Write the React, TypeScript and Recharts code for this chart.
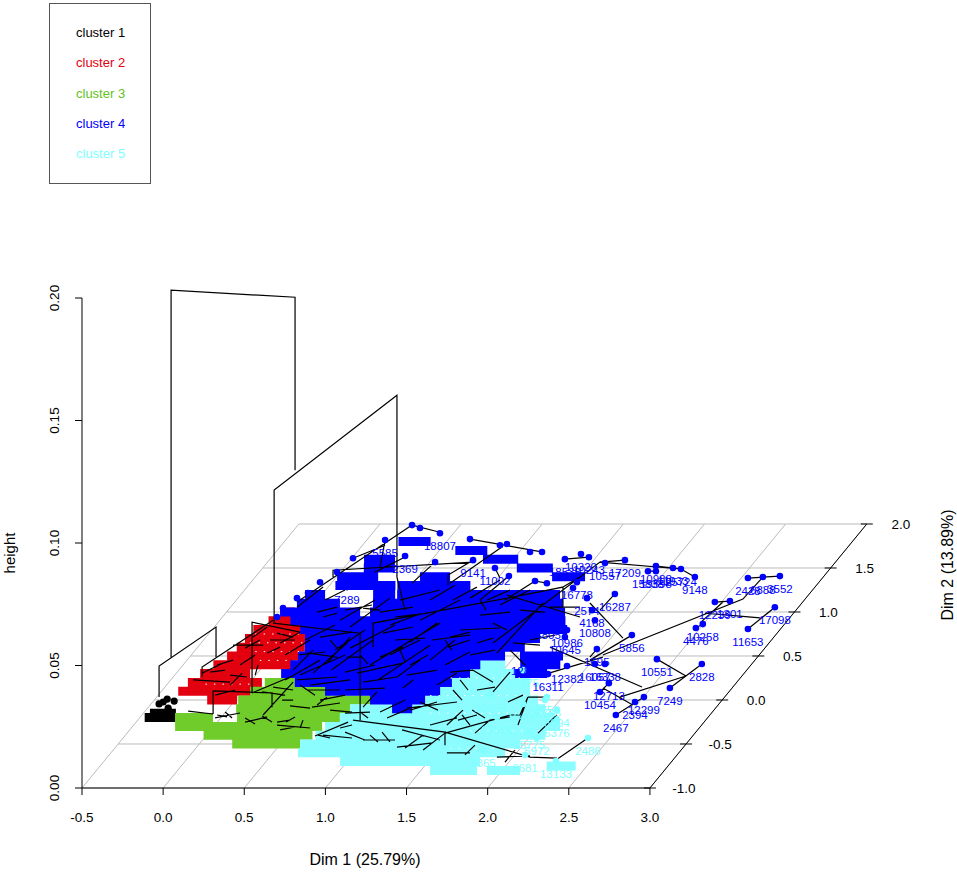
import { ComposedChart, Line, Scatter, XAxis, YAxis } from 'recharts';

// floor of the 3d box
const dim1Ticks = [-0.5, 0, 0.5, 1, 1.5, 2, 2.5, 3];
const dim2Ticks = [-1, -0.5, 0, 0.5, 1, 1.5, 2];
const heightTicks = [0, 0.05, 0.1, 0.15, 0.2];

const SHEAR_X = 0.4455;
const SHEAR_Y = 0.03592;

const project = (d1: number, d2: number) => ({
  x: d1 + (d2 + 1) * SHEAR_X,
  y: (d2 + 1) * SHEAR_Y,
});

// overlapping labels make solid bands: [dim2, dim1 start, dim1 end]
const blackBands = [
  [-0.2, -0.47, -0.28],
  [-0.15, -0.46, -0.3],
];
const redBands = [
  [0, -0.174, 0.01],
  [0.1, -0.397, 0.077],
  [0.2, -0.382, 0.074],
  [0.3, -0.351, -0.043],
  [0.4, -0.314, 0.172],
  [0.5, -0.274, 0.176],
  [0.6, -0.259, 0.16],
  [0.7, -0.253, 0.129],
  [0.8, -0.246, 0.074],
  [0.9, -0.197, 0],
  [1, -0.17, -0.078],
];
const greenBands = [
  [-0.5, 0.203, 0.622],
  [-0.4, -0.018, 0.653],
  [-0.3, -0.238, 0.668],
  [-0.2, -0.283, -0.049],
  [-0.2, 0.099, 0.733],
  [-0.1, 0.049, 0.752],
  [0, 0.017, 0.842],
  [0.1, 0.046, 0.539],
  [0.2, 0.092, 0.308],
];
const cyanBands = [
  [0.4, 1.269, 1.485],
  [0.3, 1.189, 1.651],
  [0.2, 1.201, 1.725],
  [0.1, 1.186, 1.771],
  [0, 1.169, 1.865],
  [-0.1, 0.752, 1.953],
  [-0.2, 0.733, 2.058],
  [-0.3, 0.686, 2.134],
  [-0.4, 0.672, 2.089],
  [-0.5, 0.622, 1.978],
  [-0.6, 0.653, 1.929],
  [-0.7, 0.957, 1.819],
  [-0.8, 1.556, 1.845],
  [-0.8, 1.907, 2.11],
  [-0.75, 2.252, 2.431],
];
const blueBands = [
  [1.8, 0.203, 0.401],
  [1.7, 0.598, 0.795],
  [1.6, 0.813, 1.03],
  [1.6, 0.08, 0.271],
  [1.5, 1.066, 1.288],
  [1.5, 0.123, 0.314],
  [1.4, 1.328, 1.531],
  [1.4, 0.003, 0.256],
  [1.4, 0.514, 0.699],
  [1.3, 0.037, 0.407],
  [1.3, 0.419, 0.869],
  [1.2, -0.105, 0.018],
  [1.2, 0.314, 0.45],
  [1.2, 0.462, 1.466],
  [1.1, -0.111, 0.154],
  [1.1, 0.358, 1.528],
  [1, -0.17, 0.323],
  [1, 0.384, 1.586],
  [0.9, -0.062, 1.633],
  [0.8, 0.043, 1.688],
  [0.7, 0.117, 1.565],
  [0.6, 0.16, 1.516],
  [0.5, 0.163, 1.439],
  [0.5, 1.531, 1.796],
  [0.4, 0.16, 1.331],
  [0.4, 1.577, 1.824],
  [0.3, 0.148, 1.312],
  [0.3, 1.59, 1.787],
  [0.2, 0.277, 1.245],
  [0.1, 0.508, 1.217],
  [0, 0.83, 1.169],
  [-0.1, 1.01, 1.134],
];

// thin gaps left between the overlapping digits: [dim2, dim1 start, dim1 end]
const speckBands = [
  [0.45, -0.05, 0.148],
  [0.55, -0.123, 0.154],
  [0.65, -0.2, 0.138],
  [0.75, -0.213, 0.095],
  [0.18, -0.265, 0.043],
  [0.25, 1.214, 1.676],
  [0.05, 1.177, 1.824],
  [-0.15, 1.266, 2.006],
  [-0.35, 1.602, 2.157],
  [-0.55, 1.568, 2.0],
];

// dendrogram lines in axis units: [x, height, x, height, ...]
const treeTop = [
  [0.049, 0.0534, 0.049, 0.2032, 0.813, 0.2003, 0.813, 0.1297],
  [0.684, 0.0673, 0.684, 0.1216, 1.441, 0.1603, 1.441, 0.0861, 1.491, 0.0726],
  [-0.025, 0.0371, -0.025, 0.0498, 0.326, 0.0657, 0.326, 0.0534],
  [0.548, 0.0388, 0.548, 0.0677, 0.844, 0.0636],
  [0.678, 0.0673, 1.214, 0.0632, 1.214, 0.0277],
  [1.17, 0.0277, 1.737, 0.0228, 1.737, 0.0175],
];
const treeRed = [
  [0.185, 0.0441, 0.413, 0.0432],
  [0.24, 0.0469, 0.37, 0.051],
  [0.333, 0.0502, 0.431, 0.0522],
  [0.413, 0.0461, 0.517, 0.0453],
  [0.413, 0.042, 0.487, 0.0469],
  [0.431, 0.0583, 0.616, 0.0583],
  [0.641, 0.0551, 0.721, 0.0575],
  [0.554, 0.0616, 0.641, 0.0657],
  [0.702, 0.0632, 0.801, 0.0616],
  [0.24, 0.0453, 0.24, 0.0494, 0.678, 0.0685],
  [0.29, 0.0473, 0.382, 0.0481],
  [0.474, 0.0502, 0.567, 0.0543],
  [0.567, 0.0461, 0.585, 0.0502],
  [0.659, 0.0604, 0.813, 0.0604],
  [0.505, 0.0571, 0.597, 0.0604],
  [0.32, 0.0379, 0.444, 0.04],
];
const treeGreen = [
  [0.308, 0.0302, 0.308, 0.0396, 0.671, 0.0388, 0.671, 0.033],
  [0.801, 0.0432, 0.616, 0.0298],
  [0.154, 0.0314, 0.308, 0.0302],
  [0.548, 0.0388, 0.782, 0.0453],
  [0.32, 0.0286, 0.474, 0.0306],
  [0.333, 0.0298, 0.394, 0.029],
  [0.505, 0.0269, 0.641, 0.029],
  [0.702, 0.0257, 0.906, 0.0245],
  [0.702, 0.0269, 0.782, 0.0277],
  [0.721, 0.0237, 0.813, 0.0249],
  [0.918, 0.033, 1.09, 0.0347],
  [0.733, 0.0359, 0.801, 0.0359],
  [0.678, 0.0412, 0.801, 0.04],
  [0.887, 0.04, 1.09, 0.04],
  [0.949, 0.0339, 1.01, 0.0371],
  [0.505, 0.0286, 0.567, 0.0261],
  [0.61, 0.0294, 0.671, 0.0269],
  [0.758, 0.0269, 0.813, 0.029],
  [0.844, 0.0245, 0.862, 0.0277],
  [0.382, 0.031, 0.425, 0.0286],
  [0.967, 0.0359, 1.121, 0.0379],
  [1.029, 0.0318, 1.164, 0.031],
  [0.844, 0.042, 0.936, 0.0379],
  [0.782, 0.0335, 0.906, 0.0326],
  [0.61, 0.0392, 0.752, 0.0379],
];
const treeBlue = [
  [0.721, 0.0592, 0.844, 0.0636],
  [0.949, 0.0718, 1.072, 0.0738],
  [0.986, 0.0698, 1.072, 0.0714],
  [1.152, 0.0657, 1.398, 0.0775],
  [1.232, 0.0734, 1.337, 0.0726],
  [1.337, 0.0718, 1.54, 0.0738],
  [1.398, 0.0665, 1.565, 0.0706],
  [1.355, 0.0632, 1.54, 0.0657],
  [1.522, 0.0596, 1.688, 0.0673],
  [1.768, 0.0616, 1.891, 0.0636],
  [1.756, 0.0575, 1.891, 0.0604],
  [1.934, 0.0592, 2.033, 0.0612],
  [1.786, 0.0767, 1.934, 0.082],
  [1.891, 0.0775, 2.076, 0.0849],
  [1.996, 0.0767, 2.138, 0.0808],
  [2.033, 0.0673, 2.119, 0.0645],
  [2.033, 0.0592, 2.279, 0.0714],
  [2.057, 0.0551, 2.341, 0.0755],
  [2.156, 0.0592, 2.322, 0.0583],
  [0.801, 0.0481, 0.924, 0.0563],
  [0.887, 0.0551, 1.072, 0.0534],
  [1.01, 0.051, 1.152, 0.0616],
  [1.133, 0.0534, 1.226, 0.0534],
  [0.825, 0.0738, 0.986, 0.082],
  [1.195, 0.0469, 1.478, 0.051],
  [1.275, 0.0502, 1.706, 0.0673],
  [1.232, 0.0432, 1.441, 0.0453],
  [1.441, 0.0453, 1.583, 0.0522],
  [1.503, 0.0461, 1.688, 0.0481],
  [1.478, 0.0408, 1.54, 0.0441],
  [1.337, 0.0534, 1.478, 0.0575],
  [0.825, 0.0441, 1.072, 0.0453],
  [0.924, 0.0469, 1.133, 0.0592],
  [1.429, 0.0698, 1.632, 0.0714],
  [0.875, 0.0604, 1.06, 0.0665],
  [0.967, 0.0616, 1.164, 0.0636],
  [1.06, 0.0563, 1.244, 0.0645],
  [0.838, 0.0543, 0.998, 0.0555],
  [1.121, 0.0473, 1.306, 0.0502],
  [0.906, 0.042, 1.152, 0.0441],
  [1.035, 0.0481, 1.294, 0.0604],
  [1.121, 0.04, 1.368, 0.0408],
  [1.324, 0.0441, 1.645, 0.0583],
  [1.522, 0.0502, 1.632, 0.0543],
  [1.645, 0.0522, 1.799, 0.0604],
  [1.657, 0.0604, 1.891, 0.0624],
  [1.83, 0.0645, 2.076, 0.0653],
  [1.429, 0.0604, 1.614, 0.0612],
  [1.583, 0.0685, 1.83, 0.0767],
  [1.09, 0.0685, 1.306, 0.0767],
  [0.998, 0.0767, 1.121, 0.0808],
  [1.121, 0.0726, 1.287, 0.0747],
  [1.46, 0.0767, 1.706, 0.0808],
  [1.645, 0.0767, 1.799, 0.0828],
  [2.076, 0.0747, 2.261, 0.0808],
  [2.199, 0.0726, 2.353, 0.0718],
  [1.953, 0.0706, 2.138, 0.0718],
  [2.138, 0.0563, 2.23, 0.0502],
  [2.261, 0.0604, 2.415, 0.0624],
  [1.891, 0.0543, 2.045, 0.0563],
  [1.737, 0.0502, 1.891, 0.0555],
  [1.398, 0.0543, 1.583, 0.0604],
  [0.752, 0.0543, 0.906, 0.0604],
  [0.752, 0.0441, 0.967, 0.0522],
  [0.844, 0.0461, 1.121, 0.0543],
  [1.152, 0.0571, 1.429, 0.0665],
  [1.029, 0.0604, 1.072, 0.0571],
  [1.214, 0.0543, 1.263, 0.0506],
  [1.46, 0.0563, 1.491, 0.0514],
  [1.737, 0.0604, 1.78, 0.0563],
  [1.953, 0.0767, 1.99, 0.0726],
  [1.294, 0.0575, 1.294, 0.0673, 2.156, 0.0779, 2.464, 0.082, 2.464, 0.0738],
  [2.464, 0.082, 2.569, 0.0861],
  [2.119, 0.0787, 2.569, 0.0698],
  [2.384, 0.0738, 2.569, 0.0738],
  [3.604, 0.0649, 3.77, 0.0738],
  [3.604, 0.0857, 3.801, 0.0865],
  [3.696, 0.0861, 3.573, 0.0771, 2.71, 0.0543],
  [2.71, 0.0534, 2.378, 0.0469],
  [3.4, 0.0759, 3.493, 0.0763],
  [3.45, 0.0759, 3.308, 0.0673],
  [3.283, 0.0653, 3.326, 0.0669],
  [3.339, 0.0714, 3.678, 0.0694],
  [3.043, 0.0526, 3.222, 0.0457],
  [3.32, 0.0506, 3.123, 0.0408],
  [3.222, 0.0457, 2.815, 0.0371],
  [2.747, 0.0428, 2.692, 0.0392],
  [2.71, 0.0408, 2.895, 0.0339],
  [2.963, 0.0371, 2.79, 0.0298],
  [2.384, 0.0575, 2.951, 0.0412],
  [2.63, 0.0534, 2.673, 0.0567],
  [2.63, 0.0522, 2.889, 0.0624],
  [2.784, 0.0792, 2.692, 0.0726],
  [2.63, 0.0755, 2.834, 0.0612],
  [3.277, 0.0861, 3.191, 0.0894, 2.692, 0.0922, 2.322, 0.0738],
  [2.846, 0.093, 2.692, 0.0922],
  [2.476, 0.0934, 2.624, 0.0942],
  [1.534, 0.1073, 1.706, 0.1044],
  [1.534, 0.1073, 0.825, 0.0759],
  [1.891, 0.1016, 2.341, 0.0963],
  [2.094, 0.0987, 1.768, 0.0836],
  [1.047, 0.0861, 1.047, 0.0889, 1.91, 0.0922],
  [1.756, 0.0828, 1.756, 0.0869, 1.91, 0.093],
  [1.368, 0.1012, 1.337, 0.0902],
  [1.17, 0.0938, 1.368, 0.0991],
  [1.503, 0.0947, 1.306, 0.0881],
  [1.676, 0.0922, 1.534, 0.0836],
  [2.045, 0.0898, 2.076, 0.0857],
  [2.131, 0.0865, 1.953, 0.0767],
  [2.292, 0.0845, 2.365, 0.0836],
  [2.292, 0.0845, 2.107, 0.0767],
  [3.037, 0.0906, 3.191, 0.0894],
  [2.988, 0.0885, 3.037, 0.0885],
];
const treeCyan = [
  [0.936, 0.0212, 1.14, 0.0269],
  [0.986, 0.0216, 1.164, 0.0204],
  [1.232, 0.0196, 1.429, 0.0196],
  [1.491, 0.0163, 1.602, 0.0216],
  [1.441, 0.0167, 1.663, 0.0184],
  [1.602, 0.0155, 1.737, 0.0224],
  [1.749, 0.0143, 1.891, 0.0143],
  [2.057, 0.0126, 2.261, 0.0131],
  [1.645, 0.0257, 1.811, 0.0286],
  [1.749, 0.0257, 1.848, 0.0318],
  [1.817, 0.0277, 1.934, 0.0298],
  [1.922, 0.0224, 2.014, 0.0277, 2.138, 0.029],
  [1.522, 0.0318, 1.688, 0.0351],
  [1.503, 0.0326, 1.811, 0.0351],
  [1.38, 0.0286, 1.522, 0.0326],
  [1.121, 0.0306, 1.275, 0.031],
  [1.232, 0.033, 1.318, 0.0392],
  [1.688, 0.042, 1.811, 0.0469],
  [1.768, 0.0473, 1.91, 0.0481],
  [1.934, 0.04, 2.045, 0.0412],
  [2.125, 0.0351, 2.218, 0.0379],
  [2.248, 0.0371, 2.365, 0.0371],
  [0.955, 0.0216, 1.029, 0.0204],
  [1.121, 0.0228, 1.244, 0.0196],
  [1.275, 0.0216, 1.324, 0.0188],
  [1.349, 0.0228, 1.398, 0.0188],
  [1.09, 0.0245, 1.164, 0.0257],
  [1.214, 0.031, 1.263, 0.0286],
  [1.472, 0.0237, 1.706, 0.0196],
  [1.842, 0.0298, 1.891, 0.0257],
  [1.904, 0.0318, 1.984, 0.0286],
  [1.786, 0.04, 1.842, 0.0359],
  [1.83, 0.0441, 1.879, 0.04],
  [1.86, 0.0135, 1.922, 0.0175],
  [2.107, 0.0106, 2.168, 0.0155],
  [1.583, 0.0351, 1.694, 0.0318],
  [1.337, 0.031, 1.491, 0.0359],
  [1.737, 0.0228, 2.261, 0.0126, 2.427, 0.0122],
  [2.421, 0.0114, 2.618, 0.0204],
  [1.737, 0.0224, 2.138, 0.0298, 2.199, 0.0298, 2.248, 0.0371],
  [2.187, 0.0257, 2.248, 0.0371],
  [2.31, 0.0224, 2.427, 0.0298],
  [1.91, 0.0481, 2.033, 0.0432],
  [2.138, 0.0473, 2.033, 0.0392],
];

// observation labels: [label, x, height]
const blueLeaves: [string, number, number][] = [
  ['11653', 3.604, 0.0649],
  ['17098', 3.77, 0.0738],
  ['2428', 3.604, 0.0857],
  ['6888', 3.696, 0.0861],
  ['3552', 3.801, 0.0865],
  ['12239', 3.4, 0.0759],
  ['1301', 3.493, 0.0763],
  ['4476', 3.283, 0.0653],
  ['10258', 3.326, 0.0669],
  ['10551', 3.043, 0.0526],
  ['2828', 3.32, 0.0506],
  ['7249', 3.123, 0.0408],
  ['12713', 2.747, 0.0428],
  ['10454', 2.692, 0.0392],
  ['12299', 2.963, 0.0371],
  ['2394', 2.908, 0.0351],
  ['2467', 2.79, 0.0298],
  ['5856', 2.889, 0.0624],
  ['16287', 2.784, 0.0792],
  ['9148', 3.277, 0.0861],
  ['25724', 3.191, 0.0894],
  ['11933', 3.142, 0.0898],
  ['10988', 3.037, 0.0906],
  ['19598', 3.037, 0.0885],
  ['15838', 2.988, 0.0885],
  ['17209', 2.846, 0.093],
  ['10243', 2.624, 0.0942],
  ['10320', 2.575, 0.0955],
  ['18535', 2.476, 0.0934],
  ['10557', 2.723, 0.0918],
  ['2574', 2.612, 0.0775],
  ['4168', 2.643, 0.0726],
  ['16778', 2.55, 0.084],
  ['10808', 2.661, 0.0685],
  ['1695', 2.673, 0.0567],
  ['10986', 2.489, 0.0645],
  ['10645', 2.476, 0.0616],
  ['44805', 2.353, 0.0677],
  ['16311', 2.372, 0.0465],
  ['12382', 2.489, 0.0498],
  ['12803', 2.242, 0.053],
  ['16057', 2.661, 0.0506],
  ['16338', 2.723, 0.0506],
  ['5585', 1.368, 0.1012],
  ['18807', 1.706, 0.104],
  ['2369', 1.491, 0.0947],
  ['9141', 1.91, 0.093],
  ['11002', 2.045, 0.0898],
  ['7289', 1.133, 0.082],
  ['', 1.534, 0.1073],
  ['', 1.583, 0.1061],
  ['', 1.891, 0.1016],
  ['', 2.076, 0.0991],
  ['', 2.119, 0.0996],
  ['', 2.261, 0.0963],
  ['', 2.335, 0.0963],
  ['', 1.17, 0.0938],
  ['', 1.676, 0.0922],
  ['', 2.131, 0.0865],
  ['', 2.292, 0.0845],
  ['', 2.365, 0.0836],
  ['', 2.526, 0.0816],
  ['', 0.967, 0.084],
  ['', 0.825, 0.0775],
  ['', 0.893, 0.0796],
  ['', 1.072, 0.0881],
  ['', 0.739, 0.0734],
  ['', 0.702, 0.0698],
];
const cyanLeaves: [string, number, number][] = [
  ['2486', 2.618, 0.0204],
  ['13133', 2.421, 0.011],
  ['6376', 2.427, 0.0277],
  ['5894', 2.427, 0.0318],
  ['5972', 2.304, 0.0204],
  ['6681', 2.23, 0.0135],
  ['5365', 1.971, 0.0155],
  ['8750', 2.365, 0.0371],
  ['15775', 2.255, 0.0228],
  ['12775', 2.218, 0.0481],
  ['10259', 2.014, 0.0379],
  ['16402', 2.218, 0.0343],
  ['12596', 2.057, 0.029],
  ['16785', 2.353, 0.0359],
];
const blackLeaves: [string, number, number][] = [
  ['', -0.025, 0.0343],
  ['', 0, 0.0351],
  ['', 0.025, 0.0363],
  ['', 0.068, 0.0355],
  ['', 0.031, 0.0326],
];

const legendItems = [
  { label: 'cluster 1', color: '#000000' },
  { label: 'cluster 2', color: '#E3000F' },
  { label: 'cluster 3', color: '#64C11E' },
  { label: 'cluster 4', color: '#0000FF' },
  { label: 'cluster 5', color: '#7FFFFF' },
];

const FONT = '"Liberation Sans", Arial, sans-serif';

type Pt = { x: number; y: number | null };

const breakAfter = (p: Pt): Pt => ({ x: p.x, y: null });

const bandLine = (bands: number[][]) =>
  bands.flatMap(([d2, a, b]) => {
    const end = project(b, d2);
    return [project(a, d2), end, breakAfter(end)];
  });

const treeLine = (paths: number[][]) =>
  paths.flatMap((path) => {
    const pts: Pt[] = [];
    for (let i = 0; i < path.length; i += 2) pts.push({ x: path[i], y: path[i + 1] });
    pts.push(breakAfter(pts[pts.length - 1]));
    return pts;
  });

const gridLine = [
  ...dim1Ticks.flatMap((d) => [project(d, -1), project(d, 2), breakAfter(project(d, 2))]),
  ...dim2Ticks.flatMap((d) => [project(-0.5, d), project(3, d), breakAfter(project(3, d))]),
];

const frame = [
  { x: -0.5, y: 0.2 },
  { x: -0.5, y: 0 },
  { x: 3, y: 0 },
  project(3, 2),
  breakAfter(project(3, 2)),
  ...dim2Ticks.flatMap((d) => [project(2.963, d), project(3.037, d), breakAfter(project(3, d))]),
];

const leafData = (leaves: [string, number, number][]) =>
  leaves.map(([label, x, y]) => ({ label, x, y }));

const leafShape = (color: string, r: number) => (p: any) => (
  <g>
    <circle cx={p.cx} cy={p.cy} r={r} fill={color} />
    {p.payload.label ? (
      <text x={p.cx} y={p.cy + 17} textAnchor="middle" fontSize={11.5} fontFamily={FONT} fill={color}>
        {p.payload.label}
      </text>
    ) : null}
  </g>
);

const dim2Labels = dim2Ticks.map((d) => ({ ...project(3, d), label: d.toFixed(1) }));

const dim2LabelShape = (p: any) => (
  <text x={p.cx + 34} y={p.cy + 5} textAnchor="middle" fontSize={13.5} fontFamily={FONT} fill="#000">
    {p.payload.label}
  </text>
);

const heightTick = (p: any) => (
  <text
    x={p.x}
    y={p.y}
    textAnchor="middle"
    fontSize={13.5}
    fontFamily={FONT}
    fill="#000"
    transform={`rotate(-90 ${p.x} ${p.y})`}
  >
    {Number(p.payload.value).toFixed(2)}
  </text>
);

const bandProps = { dataKey: 'y', dot: false, activeDot: false, strokeWidth: 9, strokeLinecap: 'butt' as const, isAnimationActive: false };
const thinProps = { dataKey: 'y', dot: false, activeDot: false, isAnimationActive: false };

export default function App() {
  return (
    <div style={{ position: 'absolute', left: 0, top: 0, width: 957, height: 872, background: '#fff' }}>
      <ComposedChart
        width={957}
        height={872}
        margin={{ top: 273.5, right: 15, bottom: 24, left: 22 }}
      >
        <XAxis
          dataKey="x"
          type="number"
          domain={[-0.5, 4.8]}
          ticks={dim1Ticks}
          interval={0}
          axisLine={false}
          height={60}
          tickSize={7}
          tickMargin={17}
          stroke="#000"
          tick={{ fill: '#000', fontSize: 13.5, fontFamily: FONT }}
          tickFormatter={(v: number) => v.toFixed(1)}
        />
        <YAxis
          dataKey="y"
          type="number"
          domain={[0, 0.21]}
          ticks={heightTicks}
          interval={0}
          axisLine={false}
          width={60}
          tickSize={7}
          tickMargin={16}
          stroke="#000"
          tick={heightTick}
        />
        <Line data={gridLine} {...thinProps} stroke="#BBBBBB" strokeWidth={1} />
        <Line data={frame} {...thinProps} stroke="#000" strokeWidth={1} />
        <Line data={bandLine(blackBands)} {...bandProps} stroke="#000" />
        <Line data={bandLine(redBands)} {...bandProps} stroke={legendItems[1].color} />
        <Line data={bandLine(greenBands)} {...bandProps} stroke="#70CC2A" />
        <Line data={bandLine(cyanBands)} {...bandProps} stroke="#8CFDFF" />
        <Line data={bandLine(blueBands)} {...bandProps} stroke="#0000FF" />
        <Line data={bandLine(speckBands)} {...thinProps} stroke="#FFFFFF" strokeWidth={1} strokeDasharray="1.5 7" />
        <Scatter data={leafData(blackLeaves)} shape={leafShape('#000', 3.6)} isAnimationActive={false} />
        <Scatter data={leafData(cyanLeaves)} shape={leafShape('#7FFFFF', 3.3)} isAnimationActive={false} />
        <Scatter data={leafData(blueLeaves)} shape={leafShape('#0000FF', 3.3)} isAnimationActive={false} />
        <Line data={treeLine(treeTop)} {...thinProps} stroke="#000" strokeWidth={1.2} />
        <Line data={treeLine(treeRed)} {...thinProps} stroke="#000" strokeWidth={1.2} />
        <Line data={treeLine(treeGreen)} {...thinProps} stroke="#000" strokeWidth={1.2} />
        <Line data={treeLine(treeBlue)} {...thinProps} stroke="#000" strokeWidth={1.2} />
        <Line data={treeLine(treeCyan)} {...thinProps} stroke="#000" strokeWidth={1.2} />
        <Scatter data={dim2Labels} shape={dim2LabelShape} isAnimationActive={false} />
        <text x={365} y={865} textAnchor="middle" fontSize={16} fontFamily={FONT} fill="#000">
          Dim 1 (25.79%)
        </text>
        <text x={15} y={553} textAnchor="middle" fontSize={15} fontFamily={FONT} fill="#000" transform="rotate(-90 15 553)">
          height
        </text>
        <text x={953} y={565} textAnchor="middle" fontSize={16} fontFamily={FONT} fill="#000" transform="rotate(-90 953 565)">
          Dim 2 (13.89%)
        </text>
      </ComposedChart>
      <div
        style={{
          position: 'absolute',
          left: 49,
          top: 3,
          width: 100,
          height: 179,
          border: '1px solid #555',
          fontFamily: FONT,
          fontSize: 13,
        }}
      >
        {legendItems.map((it, i) => (
          <div key={it.label} style={{ position: 'absolute', left: 26, top: 21 + i * 30.3, color: it.color, lineHeight: '16px' }}>
            {it.label}
          </div>
        ))}
      </div>
    </div>
  );
}
